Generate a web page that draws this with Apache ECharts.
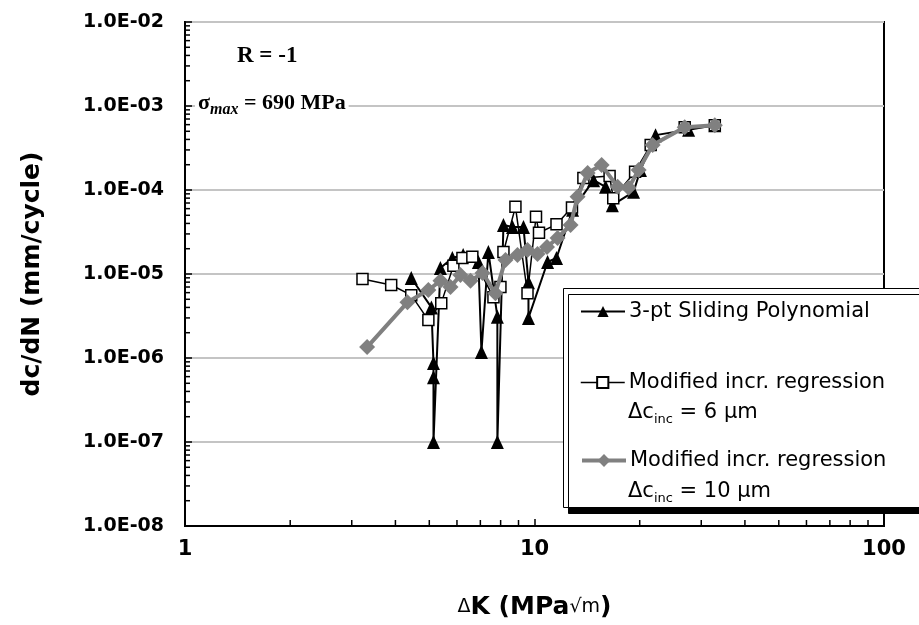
<!DOCTYPE html>
<html><head><meta charset="utf-8">
<script src="https://cdn.jsdelivr.net/npm/echarts@6/dist/echarts.min.js"></script>
<style>html,body{margin:0;padding:0;background:#fff}#c{width:919px;height:625px}</style>
</head><body><div id="c"></div>
<script>
// ---- data ----
const yTickLabels = ['1.0E-08','1.0E-07','1.0E-06','1.0E-05','1.0E-04','1.0E-03','1.0E-02'];

const dK_poly   = [4.44, 5.07, 5.14, 5.14, 5.14, 5.38, 5.82, 6.25, 6.91, 7.05, 7.38, 7.83, 7.83, 8.15, 8.65, 9.30, 9.61, 9.61, 10.9, 11.56, 12.85, 14.76, 15.97, 16.7, 19.2, 20.1, 22.2, 27.6, 32.8];
const rate_poly = [8.96e-6, 4.0e-6, 8.7e-7, 5.9e-7, 1.0e-7, 1.18e-5, 1.55e-5, 1.68e-5, 1.39e-5, 1.18e-6, 1.83e-5, 3.1e-6, 1.0e-7, 3.83e-5, 3.63e-5, 3.63e-5, 8.0e-6, 3.0e-6, 1.39e-5, 1.55e-5, 5.8e-5, 1.31e-4, 1.09e-4, 6.6e-5, 9.5e-5, 1.73e-4, 4.5e-4, 5.2e-4, 5.9e-4];

const dK_inc6   = [3.22, 3.89, 4.44, 4.97, 5.41, 5.86, 6.22, 6.64, 7.63, 7.99, 8.15, 8.82, 9.55, 10.1, 10.3, 11.56, 12.8, 13.8, 16.4, 16.8, 19.4, 21.5, 26.9, 32.8];
const rate_inc6 = [8.7e-6, 7.4e-6, 5.6e-6, 2.83e-6, 4.5e-6, 1.25e-5, 1.55e-5, 1.6e-5, 5.3e-6, 7.0e-6, 1.83e-5, 6.3e-5, 5.9e-6, 4.8e-5, 3.1e-5, 3.9e-5, 6.2e-5, 1.39e-4, 1.47e-4, 8.0e-5, 1.65e-4, 3.43e-4, 5.6e-4, 5.9e-4];

const dK_inc10   = [3.32, 4.33, 4.97, 5.38, 5.75, 6.14, 6.56, 7.1, 7.73, 8.26, 8.94, 9.55, 10.2, 10.86, 11.64, 12.68, 13.28, 14.19, 15.56, 17.29, 18.59, 19.86, 21.78, 26.9, 32.8];
const rate_inc10 = [1.35e-6, 4.6e-6, 6.45e-6, 8.3e-6, 7.0e-6, 9.7e-6, 8.3e-6, 1.03e-5, 5.9e-6, 1.47e-5, 1.68e-5, 1.93e-5, 1.73e-5, 2.1e-5, 2.68e-5, 3.83e-5, 8.3e-5, 1.59e-4, 1.98e-4, 1.09e-4, 1.06e-4, 1.73e-4, 3.43e-4, 5.6e-4, 5.9e-4];

const xMinorTicks = [2,3,4,5,6,7,8,9,20,30,40,50,60,70,80,90];
const yMinorTicks = [
  2e-8,3e-8,4e-8,5e-8,6e-8,7e-8,8e-8,9e-8,
  2e-7,3e-7,4e-7,5e-7,6e-7,7e-7,8e-7,9e-7,
  2e-6,3e-6,4e-6,5e-6,6e-6,7e-6,8e-6,9e-6,
  2e-5,3e-5,4e-5,5e-5,6e-5,7e-5,8e-5,9e-5,
  2e-4,3e-4,4e-4,5e-4,6e-4,7e-4,8e-4,9e-4,
  2e-3,3e-3,4e-3,5e-3,6e-3,7e-3,8e-3,9e-3
];

const seriesNames = {
  poly: '3-pt Sliding Polynomial',
  inc6: 'Modified incr. regression',
  inc10: 'Modified incr. regression'
};

const zip = (a, b) => a.map((v, i) => [v, b[i]]);

const chart = echarts.init(document.getElementById('c'), null, {renderer: 'canvas'});

const LBL = {fontFamily: 'DejaVu Sans', fontWeight: 'bold', fontSize: 19, color: '#000'};
const legendCommon = {
  orient: 'horizontal', padding: 0, itemWidth: 44, itemHeight: 14, itemGap: 0,
  selectedMode: false, left: 580, z: 20,
  textStyle: {fontFamily: 'DejaVu Sans', fontSize: 21, color: '#000', padding: [0, 0, 0, -1]},
  formatter: n => seriesNames[n]
};
const subRich = {
  n: {fontFamily: 'DejaVu Sans', fontSize: 21, lineHeight: 28, verticalAlign: 'middle', fill: '#000'},
  s: {fontFamily: 'DejaVu Sans', fontSize: 13, lineHeight: 13, verticalAlign: 'bottom', fill: '#000'}
};

const option = {
  animation: false,
  backgroundColor: '#fff',
  grid: {left: 185, right: 35, top: 22, bottom: 99, show: true, borderColor: '#000', borderWidth: 2, backgroundColor: 'transparent'},
  xAxis: {
    type: 'log', logBase: 10, min: 1, max: 100,
    axisLine: {show: true, lineStyle: {color: '#000', width: 2}},
    axisTick: {show: true, inside: true, length: 7, lineStyle: {color: '#000', width: 1.5}},
    axisLabel: Object.assign({}, LBL, {margin: 13, fontSize: 21}),
    splitLine: {show: false},
    name: '{d|Δ}{k|K (MPa}{r|√m}{k|)}',
    nameLocation: 'middle', nameGap: 69,
    nameTextStyle: {rich: {
      d: {fontFamily: 'DejaVu Sans', fontSize: 19, color: '#000'},
      k: {fontFamily: 'DejaVu Sans', fontWeight: 'bold', fontSize: 25, color: '#000'},
      r: {fontFamily: 'DejaVu Sans', fontSize: 19, color: '#000'}
    }}
  },
  yAxis: {
    type: 'log', logBase: 10, min: 1e-8, max: 1e-2,
    axisLine: {show: true, lineStyle: {color: '#000', width: 2}},
    axisTick: {show: true, inside: true, length: 7, lineStyle: {color: '#000', width: 1.5}},
    axisLabel: Object.assign({margin: 21, formatter: v => yTickLabels[Math.round(Math.log10(v)) + 8]}, LBL),
    splitLine: {show: true, lineStyle: {color: '#c4c4c4', width: 2}},
    name: 'dc/dN (mm/cycle)',
    nameLocation: 'middle', nameGap: 140, nameRotate: 90,
    nameTextStyle: {fontFamily: 'DejaVu Sans', fontWeight: 'bold', fontSize: 25, color: '#000'}
  },
  legend: [
    Object.assign({}, legendCommon, {data: ['poly'], top: 301, lineStyle: {width: 2}}),
    Object.assign({}, legendCommon, {data: ['inc6'], top: 372, lineStyle: {width: 1.5}}),
    Object.assign({}, legendCommon, {data: ['inc10'], top: 450, itemHeight: 16, lineStyle: {width: 4}})
  ],
  graphic: [
    {type: 'rect', left: 563, top: 288, z: 10,
     shape: {width: 420, height: 219},
     style: {fill: '#fff', stroke: '#000', lineWidth: 1, shadowColor: '#000', shadowOffsetX: 5, shadowOffsetY: 6, shadowBlur: 0}},
    {type: 'text', left: 628, top: 402, z: 12,
     style: {text: '{n|Δc}{s|inc}{n| = 6 μm}', rich: subRich}},
    {type: 'text', left: 628, top: 481, z: 12,
     style: {text: '{n|Δc}{s|inc}{n| = 10 μm}', rich: subRich}},
    {type: 'text', left: 237, top: 45, z: 12,
     style: {text: 'R = -1', fontFamily: 'Liberation Serif', fontWeight: 'bold', fontSize: 23, fill: '#000'}},
    {type: 'text', left: 195, top: 89, z: 12,
     style: {text: '{a|σ}{b|max}{a| = 690 MPa}', backgroundColor: '#fff', padding: [0, 3, 0, 3], rich: {
       a: {fontFamily: 'Liberation Serif', fontWeight: 'bold', fontSize: 22, lineHeight: 29, verticalAlign: 'middle', fill: '#000'},
       b: {fontFamily: 'Liberation Serif', fontWeight: 'bold', fontStyle: 'italic', fontSize: 16, lineHeight: 20, verticalAlign: 'bottom', fill: '#000'}}}}
  ],
  series: [
    {name: 'poly', type: 'line', data: zip(dK_poly, rate_poly), symbol: 'triangle', symbolSize: [13, 14],
     lineStyle: {color: '#000', width: 2}, itemStyle: {color: '#000'}, z: 3},
    {name: 'inc6', type: 'line', data: zip(dK_inc6, rate_inc6), symbol: 'rect', symbolSize: 11,
     lineStyle: {color: '#000', width: 1.5}, itemStyle: {color: '#fff', borderColor: '#000', borderWidth: 1.5}, z: 4},
    {name: 'inc10', type: 'line', data: zip(dK_inc10, rate_inc10), symbol: 'diamond', symbolSize: [16, 16],
     lineStyle: {color: '#808080', width: 4}, itemStyle: {color: '#808080'}, z: 5},
    {name: 'xminor', type: 'custom', silent: true, z: 6, data: xMinorTicks.map(v => [v, 1e-8]),
     renderItem: (p, api) => {
       const pt = api.coord([api.value(0), api.value(1)]);
       return {type: 'line', shape: {x1: pt[0], y1: pt[1], x2: pt[0], y2: pt[1] - 6}, style: {stroke: '#000', lineWidth: 1.5}};
     }},
    {name: 'yminor', type: 'custom', silent: true, z: 6, data: yMinorTicks.map(v => [1, v]),
     renderItem: (p, api) => {
       const pt = api.coord([api.value(0), api.value(1)]);
       return {type: 'line', shape: {x1: pt[0], y1: pt[1], x2: pt[0] + 5, y2: pt[1]}, style: {stroke: '#000', lineWidth: 1.5}};
     }}
  ]
};
chart.setOption(option);
</script>
</body></html>
